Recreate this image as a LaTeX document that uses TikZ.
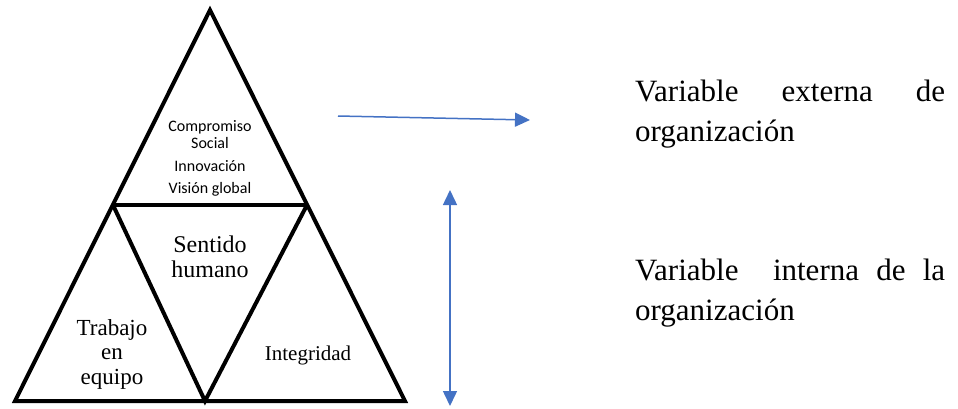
\documentclass[tikz,border=0pt]{standalone}
\usepackage{fontspec}
\setmainfont{Liberation Serif}
\newfontfamily\calibri{Carlito}
\usetikzlibrary{arrows.meta}
\definecolor{varblue}{RGB}{68,114,196}
\hyphenpenalty=10000

\begin{document}
\begin{tikzpicture}[x=1pt,y=-1pt,
		edge/.style={line width=4pt,line join=miter},
		bluearrow/.style={varblue,line width=1.5pt,arrows={-Triangle[length=15pt,width=14pt]}},
		twoway/.style={bluearrow,arrows={Triangle[length=15pt,width=14pt]-Triangle[length=15pt,width=14pt]}},
		sanstext/.style={font=\calibri\fontsize{16}{17}\selectfont,align=center},
		valtext/.style={font=\fontsize{23}{24.5}\selectfont,align=center},
		vartext/.style={font=\fontsize{31}{40}\selectfont,text width=310pt,align=justify,inner sep=0pt,anchor=north west}]
		\useasboundingbox (0,0) rectangle (958,408);
		% corners of the pyramid
		\coordinate (apex) at (210,10);
		\coordinate (midl) at (113,205);
		\coordinate (midr) at (307,205);
		\coordinate (basel) at (15,401);
		\coordinate (basem) at (205,401);
		\coordinate (baser) at (405,401);
		\draw[edge] (apex) -- (basel) -- (baser) -- cycle;
		\draw[edge] (midl) -- (midr);
		\draw[edge] (midl) -- (basem) -- (midr);
		% values
		\node[sanstext] (top) at (210,158) {Compromiso\\Social\\[6pt]Innovación\\[5pt]Visión global};
		\node[valtext,font=\fontsize{24}{25}\selectfont] (sent) at (210,257) {Sentido\\humano};
		\node[valtext] (trab) at (112,354) {Trabajo\\en\\equipo};
		\node[valtext,font=\fontsize{21}{24}\selectfont] (integ) at (308,355) {Integridad};
		% variables
		\node[vartext] (ext) at (635,80) {Variable externa de organización};
		\node[vartext] (int) at (635,259) {Variable\ \ interna de la organización};
		\coordinate (exts) at (338,116);
		\coordinate (exte) at (530,120);
		\coordinate (intt) at (450,190);
		\coordinate (intb) at (450,406);
		\draw[bluearrow] (exts) -- (exte);
		\draw[twoway] (intt) -- (intb);
	\end{tikzpicture}
\end{document}
